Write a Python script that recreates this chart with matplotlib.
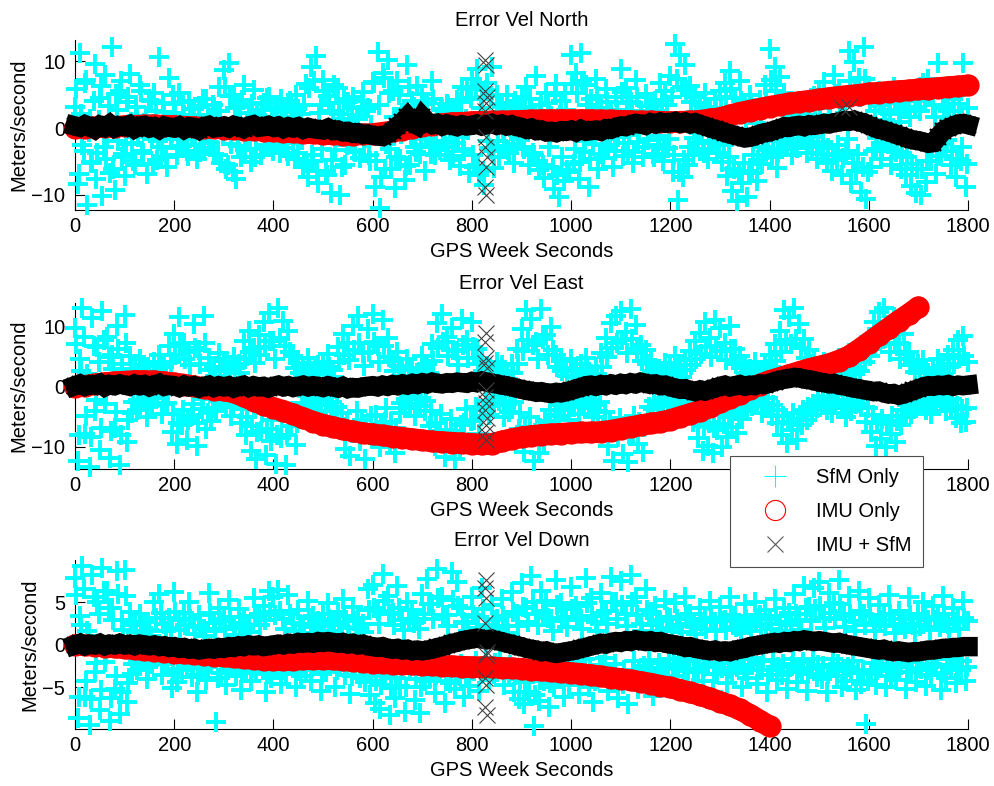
import numpy as np
import matplotlib
matplotlib.use("Agg")
import matplotlib.pyplot as plt
from matplotlib.lines import Line2D

plt.rcParams['font.family'] = ['Liberation Sans', 'DejaVu Sans']

# time grids (GPS week seconds, relative)
t_cyan = np.arange(0, 1801, 5)
t_cyan_b = np.arange(2.5, 1800, 5)
t_black = np.arange(0, 1801, 10)
t_red_north = np.arange(0, 1801, 20)
t_red_east = np.arange(0, 1701, 20)
t_red_down = np.arange(0, 1401, 20)

# ---------------- SfM only (cyan +) ----------------
sfm_north = [
    3.1, -8.4, 11.2, -2.5, 6.8, -11.5, 1.4, -5.2, 9.6, -3.8, 4.5, -10.2, 7.9, -1.1, -6.7, 12.1, -9.3, 2.7, 5.6, -4.4,
    -7.2, 3.9, 8.1, -2.2, -5.6, 1.8, 6.4, -3.5, 0.7, -6.9, 4.2, -1.6, 5.3, -4.8, 10.6, -2.9, 2.4, -5.9, 7.5, -0.8,
    3.6, -4.1, 5.2, -2.7, 1.9, -3.4, 4.0, -1.2, 2.8, -4.6, 3.3, -0.5, -3.0, 4.4, -2.1, 1.5, -3.9, 2.6, 6.1, -5.3,
    8.7, -6.2, 9.8, -2.4, 4.9, -7.6, 3.1, -4.3, 6.5, -1.7, 2.2, -5.1, 5.7, -3.2, 1.0, -4.0, 3.8, -2.6, 4.6, -1.3,
    -3.5, 2.9, -1.8, 4.3, -3.0, 1.6, -4.2, 3.5, -2.3, 5.0, -3.7, 2.1, -5.8, 6.6, -7.4, 9.1, -4.9, 10.8, -8.2, 3.4,
    7.2, -6.5, 4.8, -9.7, 2.5, -3.3, 6.0, -10.1, 1.3, -5.5, 3.9, -2.0, 4.7, -3.6, 2.0, -4.5, 5.4, -1.5, 3.0, -5.0,
    6.9, -8.8, 11.4, -12.0, 8.3, -6.1, 10.2, -3.1, 5.5, -9.0, 7.1, -4.7, 2.3, -7.8, 9.4, -5.6, 4.1, -2.8, 6.3, -3.9,
    5.1, -6.4, 3.7, -2.5, 7.0, -4.1, 1.7, -3.3, 2.9, -1.9, 3.6, -4.8, 2.4, -2.2, 4.2, -5.7, 6.2, -3.4, 5.8, -6.8,
    7.3, -5.9, 8.9, -7.0, 4.4, -8.6, 6.7, -3.0, 9.2, -6.0, 5.0, -4.4, 3.2, -2.7, 4.9, -3.8, 2.0, -5.2, 3.5, -1.6,
    4.6, -3.1, 6.1, -5.6, 2.6, -4.0, 7.8, -6.3, 3.4, -7.5, 5.3, -2.9, 1.8, -9.1, 6.6, -10.3, 4.0, -8.0, 2.7, -6.6,
    10.9, -5.4, 8.2, -7.7, 11.3, -3.6, 6.4, -8.9, 4.3, -2.4, 7.4, -6.1, 3.0, -4.5, 5.9, -3.2, 2.2, -5.8, 4.7, -1.4,
    8.8, -4.2, 6.0, -3.5, 3.9, -5.3, 7.2, -2.1, 2.5, -4.4, 5.1, -1.8, 3.3, -3.9, 4.1, -2.6, 6.7, -5.0, 5.5, -3.0,
    7.8, -6.6, 12.6, -10.8, 11.0, -7.3, 9.5, -5.5, 6.3, -4.0, 4.6, -2.3, 3.7, -3.1, 5.2, -4.6, 2.8, -1.9, 4.4, -3.7,
    5.6, -5.1, 6.8, -7.2, 8.6, -9.4, 4.5, -10.9, 7.1, -8.2, 3.6, -10.4, 5.0, -6.7, 2.9, -7.9, 4.2, -5.4, 6.5, -3.3,
    11.8, -4.3, 9.1, -6.0, 7.6, -3.2, 5.3, -2.6, 3.1, -4.1, 2.4, -3.0, 4.0, -1.7, 3.5, -3.8, 2.0, -2.9, 4.8, -4.6,
    5.7, -3.9, 6.9, -5.2, 3.8, -6.4, 8.0, -4.8, 5.9, -7.1, 4.1, -3.4, 11.6, -8.3, 9.9, -6.5, 7.5, -9.6, 12.2, -10.7,
    6.3, -5.8, 4.5, -3.1, 5.6, -4.7, 2.7, -2.2, 3.9, -5.5, 6.1, -3.6, 2.3, -6.2, 4.9, -7.0, 3.2, -8.7, 5.3, -9.8,
    4.6, -10.0, 6.8, -8.1, 7.3, -5.0, 3.4, -6.9, 9.7, -4.2, 5.0, -3.5, 2.6, -5.6, 4.3, -7.4, 6.0, -4.9, 9.8, -8.8,
    3.0]

sfm_north_b = [
    5.8, -6.9, 2.1, -3.4, 7.2, -0.6, -5.1, 4.0, -7.6, 1.2, 6.3, -2.8, -4.7, 3.3, 0.4, -6.2, 5.1, -1.9, 7.0, -3.9,
    -2.4, 4.6, 0.9, -4.9, 3.1, -1.3, 5.5, -3.7, 1.8, -0.2, 4.1, -5.4, 2.6, -2.0, 0.5, 3.7, -4.3, 1.1, -1.6, 5.0,
    2.2, -3.0, 0.3, 3.9, -1.7, -4.2, 1.5, 2.9, -2.6, 0.8, -3.6, 4.3, -0.9, 1.9, -2.2, 3.4, 0.1, -4.0, 2.5, -1.1,
    6.1, -5.5, 4.8, -6.6, 3.0, -2.7, 1.4, 4.2, -3.3, 0.6, -1.5, 3.6, -4.4, 2.0, -0.3, 2.7, -2.9, 4.5, -1.0, 1.6,
    -0.7, 3.2, -3.8, 1.0, 2.4, -2.1, 4.0, -0.4, -4.6, 2.8, 0.2, -1.8, 3.5, -5.3, 6.0, -4.1, 7.1, -6.5, 2.3, -3.2,
    5.6, -7.0, 3.7, -4.8, 6.4, -1.2, 2.1, -5.9, 4.4, -2.5, 0.7, 3.0, -3.5, 1.3, -0.8, 4.1, -2.3, 2.6, -4.1, 0.4,
    6.8, -5.0, 3.5, -7.3, 7.5, -2.4, 5.2, -6.1, 1.6, -4.3, 4.9, -0.9, 2.8, -5.7, 6.2, -1.4, 3.1, -3.6, 1.9, -2.6,
    3.6, -1.6, 0.2, -3.9, 4.3, -2.2, 1.1, 2.7, -0.8, -2.9, 3.3, 0.6, -4.2, 2.0, -1.3, 3.9, -3.1, 1.4, -0.3, 4.5,
    -4.0, 6.2, -5.8, 3.0, -6.4, 5.7, -2.0, 4.8, -3.4, 1.2, -1.9, 3.6, -0.5, 2.5, -3.3, 0.9, -2.4, 4.0, -1.0, 2.2,
    -2.8, 3.1, -0.6, 4.4, -3.7, 1.6, -4.9, 2.6, -5.6, 0.3, 3.8, -1.4, -6.0, 4.9, -7.1, 2.0, -4.4, 5.2, -6.3, 1.1,
    6.6, -3.2, 5.3, -5.1, 7.0, -1.9, 3.4, -4.6, 2.2, -0.7, 4.8, -3.9, 1.0, -2.6, 3.9, -1.6, 0.4, -3.4, 2.7, -0.2,
    5.4, -2.3, 3.8, -1.1, 2.0, -3.6, 4.6, -0.4, 1.3, -2.8, 3.3, 0.2, 2.1, -4.4, 2.6, -1.2, 4.2, -3.2, 3.5, -1.7,
    4.7, -4.1, 7.4, -6.6, 6.1, -4.8, 5.7, -2.9, 3.9, -1.5, 2.4, -0.8, 1.7, -3.7, 3.2, -2.2, 0.6, -0.5, 2.9, -2.0,
    3.0, -2.6, 4.7, -4.4, 5.9, -6.1, 2.2, -6.8, 4.0, -5.3, 1.4, -6.5, 3.2, -4.1, 0.8, -4.8, 2.5, -2.9, 3.9, -1.4,
    7.2, -2.0, 5.6, -3.7, 4.4, -1.5, 3.1, -0.9, 1.6, -2.4, 0.9, -1.8, 2.5, -0.2, 1.9, -2.3, 0.5, -1.3, 3.0, -2.7,
    3.4, -2.1, 4.2, -3.0, 2.0, -4.1, 5.1, -2.6, 3.6, -4.5, 2.3, -1.7, 7.1, -5.2, 6.0, -3.9, 4.6, -5.9, 7.4, -6.6,
    3.9, -3.5, 2.6, -1.5, 3.4, -2.8, 1.2, -0.6, 2.1, -3.3, 3.8, -1.9, 0.9, -3.8, 2.9, -4.3, 1.6, -5.4, 3.2, -6.1,
    2.5, -6.2, 4.1, -5.0, 4.6, -2.9, 1.7, -4.2, 6.0, -2.4, 3.0, -1.8, 1.2, -3.4, 2.5, -4.6, 3.6, -2.8, 6.1, -5.4]

sfm_east = [
    9.8, -12.4, 4.6, 13.1, -7.9, 2.2, -13.3, 11.5, -4.1, 6.7, -10.6, 12.6, -2.8, 8.4, -11.8, 5.3, -6.9, 10.2, -13.0, 3.9,
    12.0, -9.2, 5.1, -4.4, 3.0, -3.8, 4.7, -2.5, 3.6, -5.0, 2.3, -3.1, 4.2, -1.9, 5.4, -4.6, 3.3, -2.7, 6.8, -7.5,
    8.9, -9.6, 11.7, -6.3, 7.4, -8.8, 5.9, -4.9, 10.5, -9.9, 6.2, -3.7, 11.9, -7.0, 4.8, -5.7, 3.1, -4.0, 5.6, -2.6,
    4.4, -3.3, 2.7, -4.8, 5.0, -2.1, 3.9, -6.0, 7.7, -8.1, 9.3, -10.7, 6.5, -12.1, 8.6, -7.3, 10.9, -11.3, 12.4, -9.0,
    7.6, -12.9, 13.2, -8.5, 11.0, -13.0, 9.4, -6.6, 5.2, -9.7, 4.0, -4.5, 3.4, -2.9, 4.9, -3.5, 2.6, -4.2, 3.7, -2.4,
    4.1, -3.0, 5.5, -4.1, 2.9, -5.3, 6.6, -7.2, 8.8, -10.4, 7.3, -11.6, 10.1, -6.8, 11.8, -9.1, 5.7, -12.0, 9.6, -8.0,
    12.1, -7.7, 6.9, -10.0, 11.2, -5.9, 8.1, -9.4, 4.3, -11.1, 5.8, -4.4, 3.2, -3.6, 4.6, -2.8, 3.0, -4.9, 2.4, -3.2,
    5.2, -4.0, 3.8, -6.5, 7.1, -9.8, 10.6, -7.4, 12.2, -11.7, 8.3, -8.7, 9.9, -12.0, 6.0, -10.3, 11.4, -6.1, 7.8, -9.2,
    10.8, -5.5, 6.3, -7.9, 4.5, -3.8, 3.5, -4.7, 2.8, -3.1, 4.1, -2.3, 3.6, -5.1, 2.5, -4.2, 3.9, -2.6, 6.4, -7.1,
    9.7, -10.9, 12.8, -8.2, 11.3, -12.4, 7.5, -11.0, 13.0, -9.3, 8.7, -6.4, 10.0, -7.6, 5.4, -4.9, 4.4, -3.9, 3.1, -5.6,
    4.7, -3.4, 2.9, -4.5, 3.8, -2.7, 4.9, -3.6, 2.2, -5.0, 3.4, -4.1, 5.6, -6.9, 8.1, -9.8, 10.6, -12.3, 11.9, -8.4,
    12.7, -11.2, 9.2, -12.6, 13.0, -7.8, 10.4, -9.5, 7.0, -10.8, 6.1, -5.3, 4.3, -3.7, 3.2, -4.6, 2.6, -3.0, 4.0, -2.5,
    3.5, -4.8, 5.1, -3.3, 2.8, -4.3, 4.5, -2.9, 6.0, -5.9, 7.7, -8.6, 9.0, -10.7, 10.8, -9.9, 8.2, -11.0, 11.1, -7.2,
    9.8, -10.1, 7.3, -8.3, 10.2, -6.7, 6.4, -7.7, 5.2, -5.4, 3.9, -4.0, 3.0, -3.2, 4.2, -2.4, 2.7, -4.4, 3.7, -3.0,
    5.4, -4.9, 7.2, -6.1, 9.4, -8.0, 12.9, -9.4, 11.6, -7.2, 13.1, -8.8, 10.5, -6.4, 8.0, -5.6, 6.2, -4.7, 4.6, -3.5,
    3.3, -2.8, 4.1, -3.9, 2.5, -4.4, 3.6, -2.2, 4.8, -3.6, 2.9, -5.0, 5.7, -4.1, 3.4, -2.9, 4.4, -3.3, 6.6, -5.8,
    8.4, -7.6, 10.9, -9.9, 12.5, -8.7, 13.2, -10.1, 9.6, -7.9, 11.7, -9.2, 7.4, -6.3, 8.9, -5.1, 5.9, -4.5, 4.0, -3.6,
    3.8, -2.6, 4.5, -3.8, 2.4, -4.6, 3.1, -3.0, 4.7, -2.7, 3.5, -4.0, 5.3, -3.4, 6.1, -5.2, 7.9, -6.0, 8.5, -5.9,
    4.2]

sfm_east_b = [
    7.1, -8.0, 2.6, 8.4, -4.9, 0.8, -8.3, 6.9, -2.2, 4.1, -6.8, 7.9, -1.1, 5.0, -7.4, 3.0, -4.2, 6.3, -8.1, 1.7,
    7.3, -5.6, 3.0, -2.6, 1.5, -2.2, 2.9, -1.0, 2.1, -3.3, 0.7, -1.8, 2.6, -0.4, 3.5, -2.9, 1.9, -1.2, 4.2, -4.6,
    5.4, -6.0, 7.2, -3.8, 4.6, -5.5, 3.6, -2.9, 6.5, -6.1, 3.9, -2.1, 7.3, -4.3, 2.9, -3.5, 1.8, -2.4, 3.4, -1.3,
    2.7, -2.0, 1.4, -3.0, 3.1, -0.9, 2.3, -3.7, 4.7, -5.0, 5.8, -6.6, 4.0, -7.5, 5.3, -4.4, 6.7, -7.0, 7.7, -5.5,
    4.6, -8.0, 8.2, -5.2, 6.8, -8.1, 5.8, -4.0, 3.2, -6.0, 2.3, -2.7, 2.0, -1.6, 3.0, -2.1, 1.4, -2.5, 2.2, -1.3,
    2.5, -1.7, 3.4, -2.5, 1.6, -3.3, 4.1, -4.4, 5.4, -6.4, 4.5, -7.2, 6.2, -4.1, 7.3, -5.6, 3.5, -7.4, 5.9, -4.9,
    7.5, -4.7, 4.2, -6.2, 6.9, -3.6, 5.0, -5.8, 2.6, -6.9, 3.5, -2.7, 1.9, -2.1, 2.8, -1.6, 1.7, -3.0, 1.3, -1.9,
    3.2, -2.4, 2.3, -4.0, 4.4, -6.1, 6.5, -4.5, 7.5, -7.2, 5.1, -5.3, 6.1, -7.4, 3.7, -6.4, 7.0, -3.7, 4.8, -5.7,
    6.7, -3.3, 3.9, -4.9, 2.7, -2.3, 2.1, -2.9, 1.6, -1.8, 2.5, -1.3, 2.2, -3.1, 1.4, -2.5, 2.4, -1.5, 3.9, -4.4,
    6.0, -6.7, 7.9, -5.0, 7.0, -7.7, 4.6, -6.8, 8.0, -5.7, 5.4, -3.9, 6.2, -4.7, 3.3, -3.0, 2.7, -2.4, 1.9, -3.4,
    2.9, -2.1, 1.7, -2.8, 2.3, -1.6, 3.0, -2.2, 1.3, -3.1, 2.1, -2.5, 3.4, -4.2, 5.0, -6.0, 6.5, -7.6, 7.3, -5.2,
    7.8, -6.9, 5.7, -7.8, 8.0, -4.8, 6.4, -5.9, 4.3, -6.7, 3.8, -3.3, 2.6, -2.3, 2.0, -2.8, 1.6, -1.8, 2.5, -1.5,
    2.1, -2.9, 3.1, -2.0, 1.7, -2.6, 2.8, -1.8, 3.7, -3.6, 4.7, -5.3, 5.5, -6.6, 6.7, -6.1, 5.0, -6.8, 6.8, -4.4,
    6.0, -6.2, 4.5, -5.1, 6.3, -4.1, 3.9, -4.7, 3.2, -3.3, 2.4, -2.5, 1.8, -2.0, 2.6, -1.5, 1.6, -2.7, 2.3, -1.8,
    3.3, -3.0, 4.4, -3.8, 5.8, -4.9, 7.9, -5.8, 7.1, -4.4, 8.0, -5.4, 6.5, -3.9, 4.9, -3.4, 3.8, -2.9, 2.8, -2.2,
    2.0, -1.7, 2.5, -2.4, 1.5, -2.7, 2.2, -1.4, 2.9, -2.2, 1.8, -3.1, 3.5, -2.5, 2.1, -1.8, 2.7, -2.0, 4.1, -3.6,
    5.2, -4.7, 6.7, -6.1, 7.7, -5.4, 8.1, -6.2, 5.9, -4.9, 7.2, -5.7, 4.6, -3.9, 5.5, -3.1, 3.6, -2.8, 2.5, -2.2,
    2.3, -1.6, 2.8, -2.3, 1.5, -2.8, 1.9, -1.8, 2.9, -1.7, 2.1, -2.5, 3.3, -2.1, 3.8, -3.2, 4.9, -3.7, 5.2, -3.6]

sfm_down = [
    7.9, -8.6, 3.4, 9.3, -6.1, 1.7, -9.4, 8.2, -3.2, 5.0, -7.7, 9.1, -2.0, 6.4, -9.0, 4.3, -5.2, 8.7, -8.1, 2.9,
    8.8, -6.7, 3.9, -3.4, 2.4, -2.9, 3.6, -1.9, 2.7, -4.0, 1.8, -2.3, 5.1, -1.4, 6.0, -3.5, 2.5, -2.0, 3.2, -5.1,
    6.2, -4.4, 2.9, -3.0, 3.8, -2.5, 5.0, -3.8, 2.2, -5.6, 3.5, -2.7, 1.9, -4.1, 6.1, -2.2, 2.6, -9.1, 4.4, -3.3,
    3.0, -4.7, 5.3, -2.4, 2.1, -3.6, 4.2, -5.3, 3.3, -2.8, 2.4, -4.3, 5.5, -3.1, 3.7, -2.0, 4.6, -5.5, 6.3, -3.9,
    5.6, -2.6, 6.5, -4.6, 3.1, -3.4, 5.9, -2.3, 2.6, -5.0, 4.1, -3.7, 2.3, -2.9, 5.2, -4.2, 3.4, -2.4, 2.8, -5.4,
    3.6, -3.2, 4.9, -2.1, 2.7, -4.9, 3.9, -2.6, 5.4, -3.5, 2.0, -5.8, 4.5, -2.4, 3.2, -3.9, 2.5, -4.4, 6.6, -5.9,
    7.1, -6.8, 4.0, -7.6, 8.3, -3.6, 5.8, -8.2, 3.8, -6.2, 6.9, -4.8, 2.9, -7.9, 5.0, -3.0, 4.1, -6.5, 3.0, -8.0,
    6.0, -4.2, 7.8, -3.9, 4.8, -5.7, 8.9, -3.3, 5.6, -6.8, 3.5, -4.5, 8.6, -5.2, 7.4, -3.7, 4.3, -6.1, 2.6, -4.8,
    5.7, -3.1, 3.3, -5.4, 6.7, -2.8, 2.4, -4.1, 4.7, -3.4, 3.1, -2.5, 5.4, -4.7, 2.2, -3.8, 6.2, -5.6, 3.6, -6.4,
    7.3, -7.0, 4.4, -5.5, 8.1, -9.6, 3.7, -6.6, 6.4, -4.3, 5.2, -7.3, 2.8, -5.0, 7.6, -3.6, 4.9, -6.1, 3.3, -4.7,
    6.8, -3.3, 4.6, -5.8, 3.0, -2.7, 7.9, -4.9, 5.5, -6.7, 2.7, -3.9, 6.1, -2.4, 4.0, -5.4, 8.0, -3.5, 5.0, -6.3,
    7.5, -4.6, 3.6, -6.9, 8.2, -3.0, 5.7, -5.2, 2.5, -4.0, 6.6, -2.9, 3.9, -6.0, 4.6, -3.3, 2.8, -4.5, 5.3, -2.6,
    3.2, -3.6, 4.9, -2.5, 2.4, -4.8, 5.6, -3.1, 3.6, -5.1, 2.1, -2.8, 4.4, -4.2, 3.0, -2.3, 5.2, -5.5, 2.7, -3.4,
    4.5, -2.7, 2.9, -4.5, 5.7, -3.3, 3.4, -2.6, 2.2, -5.0, 4.8, -3.9, 2.6, -2.4, 5.0, -4.6, 3.5, -3.0, 4.1, -5.6,
    3.1, -2.9, 5.4, -4.1, 2.5, -3.5, 4.3, -5.2, 3.8, -2.5, 6.0, -4.4, 2.9, -3.2, 7.0, -5.4, 4.5, -2.8, 6.7, -3.8,
    7.4, -4.0, 3.2, -5.5, 6.1, -2.6, 4.9, -3.7, 7.7, -5.0, 3.4, -4.2, 5.8, -3.1, 2.8, -5.3, 6.4, -4.6, 3.7, -9.3,
    5.5, -3.4, 2.6, -4.7, 4.7, -2.7, 3.5, -5.0, 5.9, -3.6, 2.3, -4.1, 4.0, -2.4, 3.1, -5.2, 5.6, -3.2, 2.4, -4.4,
    3.6, -2.8, 5.1, -4.8, 2.9, -3.5, 4.6, -2.5, 3.3, -5.3, 5.8, -3.9, 2.5, -2.6, 4.4, -4.5, 3.0, -3.0, 5.2, -4.2,
    2.8]

sfm_down_b = [
    5.9, -6.1, 2.4, 6.6, -4.3, 1.0, -6.4, 5.6, -2.1, 3.6, -5.3, 6.3, -1.2, 4.4, -6.2, 2.9, -3.6, 6.0, -5.5, 1.8,
    5.8, -4.5, 2.6, -2.2, 1.5, -1.8, 2.3, -1.1, 1.7, -2.6, 1.0, -1.5, 3.2, -0.8, 3.8, -2.2, 1.6, -1.2, 2.0, -3.2,
    3.9, -2.8, 1.8, -1.9, 2.4, -1.5, 3.1, -2.4, 1.3, -3.5, 2.2, -1.7, 1.1, -2.6, 3.8, -1.3, 1.6, -3.9, 2.8, -2.0,
    1.9, -2.9, 3.3, -1.4, 1.2, -2.2, 2.6, -3.3, 2.0, -1.7, 1.5, -2.7, 3.4, -1.9, 2.3, -1.2, 2.9, -3.4, 3.9, -2.4,
    3.5, -1.6, 4.0, -2.9, 1.9, -2.1, 3.7, -1.4, 1.6, -3.1, 2.5, -2.3, 1.4, -1.8, 3.2, -2.6, 2.1, -1.4, 1.7, -3.4,
    2.2, -2.0, 3.0, -1.3, 1.7, -3.0, 2.4, -1.6, 3.4, -2.2, 1.2, -3.6, 2.8, -1.5, 2.0, -2.4, 1.5, -2.7, 4.1, -3.7,
    4.4, -4.2, 2.5, -4.7, 5.2, -2.2, 3.6, -5.1, 2.4, -3.9, 4.3, -3.0, 1.8, -4.9, 3.1, -1.9, 2.6, -4.0, 1.9, -5.0,
    3.7, -2.6, 4.8, -2.4, 3.0, -3.5, 5.5, -2.1, 3.5, -4.2, 2.2, -2.8, 5.3, -3.2, 4.6, -2.3, 2.7, -3.8, 1.6, -3.0,
    3.5, -1.9, 2.0, -3.4, 4.2, -1.7, 1.5, -2.5, 2.9, -2.1, 1.9, -1.6, 3.4, -2.9, 1.4, -2.4, 3.9, -3.5, 2.2, -4.0,
    4.5, -4.4, 2.7, -3.4, 5.0, -5.9, 2.3, -4.1, 4.0, -2.7, 3.2, -4.5, 1.7, -3.1, 4.7, -2.2, 3.0, -3.8, 2.1, -2.9,
    4.2, -2.0, 2.9, -3.6, 1.9, -1.7, 4.9, -3.0, 3.4, -4.2, 1.7, -2.4, 3.8, -1.5, 2.5, -3.4, 5.0, -2.2, 3.1, -3.9,
    4.7, -2.9, 2.2, -4.3, 5.1, -1.9, 3.5, -3.2, 1.6, -2.5, 4.1, -1.8, 2.4, -3.7, 2.9, -2.1, 1.7, -2.8, 3.3, -1.6,
    2.0, -2.2, 3.0, -1.6, 1.5, -3.0, 3.5, -1.9, 2.2, -3.2, 1.3, -1.7, 2.7, -2.6, 1.9, -1.4, 3.2, -3.4, 1.7, -2.1,
    2.8, -1.7, 1.8, -2.8, 3.5, -2.1, 2.1, -1.6, 1.4, -3.1, 3.0, -2.4, 1.6, -1.5, 3.1, -2.9, 2.2, -1.9, 2.5, -3.5,
    1.9, -1.8, 3.4, -2.6, 1.6, -2.2, 2.7, -3.2, 2.4, -1.6, 3.7, -2.7, 1.8, -2.0, 4.4, -3.4, 2.8, -1.7, 4.2, -2.4,
    4.6, -2.5, 2.0, -3.4, 3.8, -1.6, 3.1, -2.3, 4.8, -3.1, 2.1, -2.6, 3.6, -1.9, 1.7, -3.3, 4.0, -2.9, 2.3, -4.2,
    3.4, -2.1, 1.6, -2.9, 2.9, -1.7, 2.2, -3.1, 3.7, -2.2, 1.4, -2.6, 2.5, -1.5, 1.9, -3.2, 3.5, -2.0, 1.5, -2.7,
    2.2, -1.7, 3.2, -3.0, 1.8, -2.2, 2.9, -1.6, 2.1, -3.3, 3.6, -2.4, 1.6, -1.6, 2.7, -2.8, 1.9, -1.9, 3.2, -2.6]

# ---------------- IMU only (red o) ----------------
imu_north = [
    0.0, 0.05, 0.1, 0.15, 0.2, 0.3, 0.35, 0.4, 0.4, 0.35,
    0.3, 0.2, 0.15, 0.05, 0.0, -0.1, -0.15, -0.25, -0.3, -0.4,
    -0.5, -0.55, -0.65, -0.75, -0.8, -0.9, -0.95, -1.0, -1.0, -0.95,
    -0.9, -0.7, -0.5, -0.3, 0.0, 0.3, 0.45, 0.6, 0.75, 0.8,
    0.9, 0.95, 1.0, 1.0, 1.05, 1.1, 1.15, 1.2, 1.2, 1.2,
    1.2, 1.2, 1.2, 1.15, 1.15, 1.1, 1.05, 1.0, 1.0, 0.95,
    0.9, 0.95, 1.0, 1.1, 1.3, 1.5, 1.9, 2.3, 2.6, 2.9,
    3.2, 3.45, 3.7, 3.9, 4.1, 4.3, 4.5, 4.7, 4.85, 5.0,
    5.2, 5.3, 5.45, 5.55, 5.65, 5.8, 5.9, 6.0, 6.15, 6.25,
    6.4]

imu_east = [
    0.0, 0.2, 0.45, 0.65, 0.8, 0.9, 1.0, 1.0, 0.95, 0.8,
    0.6, 0.4, 0.1, -0.2, -0.45, -0.6, -0.9, -1.6, -2.3, -3.0,
    -3.5, -4.0, -4.6, -5.2, -5.8, -6.3, -6.7, -7.1, -7.4, -7.7,
    -7.9, -8.1, -8.3, -8.5, -8.7, -8.9, -9.1, -9.2, -9.3, -9.4,
    -9.5, -9.6, -9.5, -9.1, -8.7, -8.4, -8.2, -8.0, -7.9, -7.8,
    -7.7, -7.6, -7.6, -7.5, -7.3, -7.0, -6.7, -6.4, -6.1, -5.9,
    -5.5, -5.0, -4.5, -4.0, -3.3, -2.6, -1.9, -1.2, -0.3, 0.4,
    1.0, 1.5, 2.0, 2.5, 3.0, 3.4, 3.8, 4.4, 5.1, 6.2,
    7.4, 8.6, 9.8, 11.0, 12.1, 13.3]

imu_down = [
    0.0, -0.05, -0.1, -0.2, -0.3, -0.4, -0.5, -0.6, -0.7, -0.8,
    -0.9, -1.0, -1.05, -1.15, -1.25, -1.35, -1.45, -1.55, -1.65, -1.75,
    -1.8, -1.8, -1.75, -1.7, -1.65, -1.65, -1.7, -1.8, -1.9, -2.0,
    -2.1, -2.15, -2.2, -2.25, -2.3, -2.35, -2.4, -2.45, -2.5, -2.55,
    -2.6, -2.6, -2.65, -2.7, -2.75, -2.8, -2.9, -3.0, -3.1, -3.2,
    -3.3, -3.4, -3.55, -3.7, -3.85, -4.0, -4.15, -4.35, -4.55, -4.8,
    -5.0, -5.3, -5.6, -5.9, -6.3, -6.7, -7.1, -7.6, -8.2, -8.9,
    -9.6]

# ---------------- IMU + SfM (black x) ----------------
fused_north = [
    0.3, 0.1, 0.5, 0.2, -0.2, 0.4, 0.1, 0.6, 0.0, 0.3,
    0.2, 0.5, -0.1, 0.3, 0.4, 0.0, 0.2, -0.2, 0.3, 0.1,
    0.0, 0.3, -0.2, 0.2, 0.1, -0.3, 0.2, 0.4, 0.0, 0.1,
    0.3, 0.0, 0.4, 0.2, -0.1, 0.3, 0.5, 0.1, 0.2, 0.4,
    0.1, 0.3, -0.1, 0.2, 0.0, 0.2, -0.2, 0.1, -0.1, -0.2,
    -0.3, 0.0, -0.4, -0.3, -0.6, -0.5, -0.8, -0.7, -1.0, -0.9,
    -1.1, -1.2, -1.3, -0.9, -0.4, 0.3, 0.9, 1.7, 0.8, 0.4,
    1.7, 0.9, 0.5, 0.7, 0.3, 0.6, 0.4, 0.2, 0.5, 0.3,
    0.4, 0.6, 0.3, 0.5, 0.7, 0.4, 0.6, 0.3, 0.5, 0.2,
    0.1, -0.2, 0.0, -0.4, -0.3, -0.6, -0.5, -0.7, -0.4, -0.5,
    -0.3, -0.6, -0.2, -0.5, -0.4, -0.3, -0.5, -0.1, -0.2, 0.1,
    0.3, 0.2, 0.5, 0.7, 0.6, 0.4, 0.8, 0.6, 0.9, 0.7,
    0.8, 1.0, 0.7, 0.9, 0.6, 0.8, 0.5, 0.3, 0.0, -0.2,
    -0.4, -0.7, -0.9, -1.1, -1.3, -1.5, -1.4, -1.2, -0.9, -0.7,
    -0.6, -0.3, -0.1, 0.2, 0.1, 0.3, 0.4, 0.2, 0.5, 0.4,
    0.5, 0.7, 0.6, 0.8, 0.9, 1.1, 1.0, 1.2, 0.9, 0.8,
    0.4, 0.1, -0.2, -0.3, -0.6, -0.8, -1.1, -1.3, -1.6, -1.8,
    -1.9, -2.1, -2.3, -2.2, -1.3, -0.4, 0.0, 0.3, 0.6, 0.7,
    0.5]

fused_east = [
    0.2, 0.5, 0.1, 0.4, 0.3, 0.6, 0.0, 0.4, 0.2, 0.5,
    0.3, 0.1, 0.5, 0.2, 0.4, 0.0, 0.3, 0.6, 0.1, 0.3,
    0.2, -0.1, 0.3, 0.0, 0.2, -0.2, 0.1, 0.3, -0.1, 0.2,
    0.0, 0.2, -0.2, 0.1, 0.3, -0.1, 0.2, 0.0, 0.1, -0.2,
    0.1, 0.3, 0.0, 0.2, -0.1, 0.1, 0.3, 0.0, 0.2, 0.1,
    -0.1, 0.2, 0.0, -0.2, 0.1, -0.3, -0.1, -0.2, 0.0, 0.1,
    0.2, 0.0, 0.3, 0.1, 0.4, 0.2, 0.5, 0.3, 0.6, 0.4,
    0.7, 0.5, 0.8, 0.6, 0.5, 0.7, 0.6, 0.8, 0.7, 0.6,
    0.9, 0.7, 1.0, 0.8, 0.6, 0.5, 0.3, 0.2, 0.0, -0.2,
    -0.4, -0.6, -0.7, -0.9, -0.8, -1.0, -1.1, -0.9, -1.0, -0.8,
    -0.6, -0.3, -0.1, 0.2, 0.3, 0.1, 0.4, 0.2, 0.5, 0.3,
    0.6, 0.4, 0.7, 0.5, 0.8, 0.6, 0.4, 0.5, 0.2, 0.3,
    0.0, -0.2, -0.4, -0.3, -0.6, -0.8, -0.5, -0.7, -0.4, -0.2,
    0.1, 0.3, 0.0, 0.2, 0.4, 0.1, 0.3, 0.2, 0.5, 0.4,
    0.6, 0.9, 1.1, 1.3, 1.4, 1.6, 1.5, 1.3, 1.2, 1.0,
    0.8, 0.7, 0.5, 0.6, 0.3, 0.2, 0.0, -0.2, -0.3, -0.5,
    -0.6, -0.8, -0.7, -1.0, -1.2, -1.1, -1.4, -1.2, -0.9, -0.6,
    -0.3, 0.0, 0.2, 0.1, 0.3, 0.2, 0.4, 0.1, 0.3, 0.2,
    0.3]

fused_down = [
    0.0, 0.2, -0.1, 0.1, 0.0, 0.2, -0.1, 0.1, 0.0, 0.2,
    0.0, 0.1, -0.1, 0.1, 0.0, -0.1, 0.0, -0.2, -0.1, -0.3,
    -0.2, -0.4, -0.3, -0.5, -0.4, -0.6, -0.5, -0.4, -0.5, -0.3,
    -0.4, -0.2, -0.3, -0.1, -0.2, 0.0, -0.1, 0.0, -0.2, -0.1,
    0.0, 0.1, 0.0, 0.2, 0.1, 0.3, 0.2, 0.3, 0.2, 0.4,
    0.3, 0.4, 0.3, 0.2, 0.3, 0.1, 0.2, 0.0, 0.1, -0.1,
    -0.2, -0.3, -0.2, -0.4, -0.5, -0.4, -0.6, -0.5, -0.7, -0.6,
    -0.7, -0.6, -0.5, -0.3, -0.2, 0.0, 0.2, 0.3, 0.5, 0.6,
    0.7, 0.8, 0.7, 0.6, 0.7, 0.5, 0.4, 0.2, 0.1, -0.1,
    -0.2, -0.4, -0.5, -0.6, -0.8, -0.7, -0.9, -1.0, -0.9, -0.8,
    -0.7, -0.6, -0.4, -0.3, -0.1, 0.0, 0.2, 0.1, 0.3, 0.4,
    0.3, 0.5, 0.4, 0.6, 0.5, 0.4, 0.5, 0.3, 0.4, 0.2,
    0.1, 0.0, -0.1, -0.3, -0.2, -0.4, -0.5, -0.6, -0.7, -0.6,
    -0.8, -0.7, -0.8, -0.6, -0.5, -0.4, -0.2, -0.1, 0.0, 0.1,
    0.2, 0.3, 0.2, 0.4, 0.3, 0.5, 0.4, 0.6, 0.5, 0.4,
    0.5, 0.4, 0.3, 0.2, 0.3, 0.1, 0.0, -0.1, -0.2, -0.3,
    -0.4, -0.5, -0.6, -0.5, -0.7, -0.8, -0.7, -0.8, -0.9, -0.8,
    -0.8, -0.7, -0.6, -0.6, -0.5, -0.4, -0.4, -0.3, -0.3, -0.2,
    -0.2]

# outlying fused estimates (the column near 828 s)
north_spike_t = [826, 829, 827, 830, 828, 826, 829, 827, 830, 828, 826, 829, 1545, 1560]
north_spike_v = [10.2, 9.4, 5.6, 4.6, 3.8, 2.6, -1.4, -2.9, -4.4, -5.9, -8.8, -10.0, 3.0, 3.2]
east_spike_t = [828, 826, 829, 827, 830, 828, 826, 829, 827, 830, 828, 826, 829]
east_spike_v = [9.0, 7.5, 4.8, 4.0, 3.2, -0.5, -1.7, -2.7, -3.8, -5.2, -6.3, -7.7, -8.8]
down_spike_t = [828, 826, 829, 827, 830, 828, 826, 829, 827, 830]
down_spike_v = [7.6, 6.7, 5.5, 2.6, -0.8, -1.2, -3.9, -4.7, -7.3, -8.2]

titles = ["Error Vel North", "Error Vel East", "Error Vel Down"]
FS = 14.5
CYAN = '#00ffff'
RED = '#ff0000'


def draw_panel(ax, title, ylim, yticks, sfm, sfm_b, red_t, imu, fused, spike_t, spike_v):
    # SfM only: dense cloud of '+'
    for tt, vv in ((t_cyan, sfm), (t_cyan_b, sfm_b)):
        ax.plot(tt, vv, linestyle='none', marker='+', color=CYAN,
                markersize=14.4, markeredgewidth=2.8, zorder=3, clip_on=False)
    # IMU only: overlapping circles make a solid band
    ax.plot(red_t, imu, '-', color=RED, linewidth=15.5, solid_capstyle='round',
            solid_joinstyle='round', zorder=4, clip_on=False)
    ax.plot(red_t, imu, linestyle='none', marker='o', color=RED,
            markersize=15, markeredgewidth=1, zorder=4, clip_on=False)
    # IMU + SfM: overlapping crosses make a jagged black band
    ax.plot(t_black, fused, '-', color='black', linewidth=14,
            solid_joinstyle='miter', zorder=5, clip_on=False)
    ax.plot(t_black, fused, linestyle='none', marker='x', color='black',
            markersize=12, markeredgewidth=1.6, zorder=5, clip_on=False)
    ax.plot(spike_t, spike_v, linestyle='none', marker='x', color='0.25',
            markersize=11, markeredgewidth=0.8, zorder=5, clip_on=False)

    ax.set_xlim(0, 1800)
    ax.set_ylim(*ylim)
    ax.set_xticks(np.arange(0, 1801, 200))
    ax.set_yticks(yticks)
    ax.tick_params(direction='in', length=7, width=0.8, labelsize=FS, pad=5)
    ax.tick_params(axis='y', pad=7)
    ax.spines['top'].set_visible(False)
    ax.spines['right'].set_visible(False)
    ax.spines['left'].set_linewidth(0.8)
    ax.spines['bottom'].set_linewidth(0.8)
    ax.set_title(title, fontsize=FS, pad=10)
    ax.set_xlabel("GPS Week Seconds", fontsize=FS, labelpad=4)
    ax.set_ylabel("Meters/second", fontsize=FS, labelpad=2)


fig = plt.figure(figsize=(9.95, 7.86), dpi=100)
ax1 = fig.add_axes([0.0754, 0.7328, 0.8975, 0.2163])
ax2 = fig.add_axes([0.0754, 0.4033, 0.8975, 0.2112])
ax3 = fig.add_axes([0.0754, 0.0725, 0.8975, 0.2150])

draw_panel(ax1, titles[0], (-12.3, 13.2), [-10, 0, 10], sfm_north, sfm_north_b,
           t_red_north, imu_north, fused_north, north_spike_t, north_spike_v)
draw_panel(ax2, titles[1], (-13.7, 14.0), [-10, 0, 10], sfm_east, sfm_east_b,
           t_red_east, imu_east, fused_east, east_spike_t, east_spike_v)
draw_panel(ax3, titles[2], (-9.9, 10.0), [-5, 0, 5], sfm_down, sfm_down_b,
           t_red_down, imu_down, fused_down, down_spike_t, down_spike_v)

handles = [
    Line2D([], [], linestyle='none', marker='+', color=CYAN, markersize=16, markeredgewidth=0.8),
    Line2D([], [], linestyle='none', marker='o', markerfacecolor='none', markeredgecolor=RED,
           markersize=14.5, markeredgewidth=0.8),
    Line2D([], [], linestyle='none', marker='x', color='0.35', markersize=11, markeredgewidth=0.8),
]
leg = fig.legend(handles, ["SfM Only", "IMU Only", "IMU + SfM"], loc='upper left',
                 bbox_to_anchor=(0.7337, 0.4198), borderaxespad=0, fontsize=FS,
                 frameon=True, fancybox=False, framealpha=1, edgecolor='0.3',
                 borderpad=0.6, handlelength=3.3, handletextpad=0.35, labelspacing=0.75)
leg.get_frame().set_linewidth(0.8)
leg.set_zorder(10)

fig.savefig("out.png", dpi=100, facecolor='white')
